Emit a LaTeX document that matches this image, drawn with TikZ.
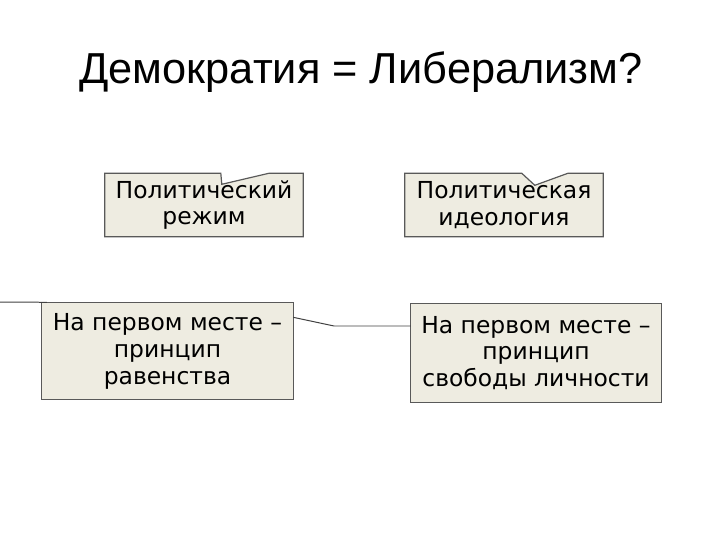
\documentclass[tikz,border=0pt]{standalone}
\usepackage{fontspec}
\setmainfont{DejaVu Sans}
\newfontfamily\titlefont{Liberation Sans}
\usetikzlibrary{calc,backgrounds}
\definecolor{boxfill}{HTML}{EEECE1}
\definecolor{boxline}{HTML}{595959}
\tikzset{
  box/.style={align=center, inner sep=0pt, font=\fontsize{23.5}{27}\selectfont},
  outline/.style={draw=boxline, fill=boxfill, line width=1.2pt, line join=miter},
  wire/.style={draw=black!75, line width=1pt}
}
\begin{document}
\begin{tikzpicture}[x=1bp, y=-1bp]
\useasboundingbox (0,0) rectangle (720,540);
% title
\node[font=\titlefont\fontsize{43.5}{50}\selectfont] (title) at (361,72) {Демократия = Либерализм?};
% upper boxes
\node[box, minimum width=198bp, minimum height=63bp] (reg) at (204,205) {Политический\\режим};
\node[box, minimum width=198bp, minimum height=63bp] (ideo) at (504,205) {Политическая\\идеология};
% lower boxes
\node[box, minimum width=251bp, minimum height=97bp] (eq) at (167.5,351) {На первом месте –\\принцип\\равенства};
\node[box, minimum width=250bp, minimum height=99bp] (lib) at (536,353) {На первом месте –\\принцип\\свободы личности};
\begin{scope}[on background layer]
  \path[outline] (reg.north west) -- ++(116,0) -- ++(1,11) -- ++(47,-11) -- (reg.north east)
    -- (reg.south east) -- (reg.south west) -- cycle;
  \path[outline] (ideo.north west) -- ++(117,0) -- ++(13,12) -- ++(33,-12) -- (ideo.north east)
    -- (ideo.south east) -- (ideo.south west) -- cycle;
  \path[outline] (eq.north west) rectangle (eq.south east);
  \path[outline] (lib.north west) rectangle (lib.south east);
\end{scope}
% connectors
\coordinate (l0) at (0,302);
\coordinate (bend) at (334,326);
\draw[wire] (l0) -- ([xshift=5bp]eq.north west);
\draw[wire] ($(eq.north east)+(0,15)$) -- (bend) -- (bend -| lib.west);
\end{tikzpicture}
\end{document}
